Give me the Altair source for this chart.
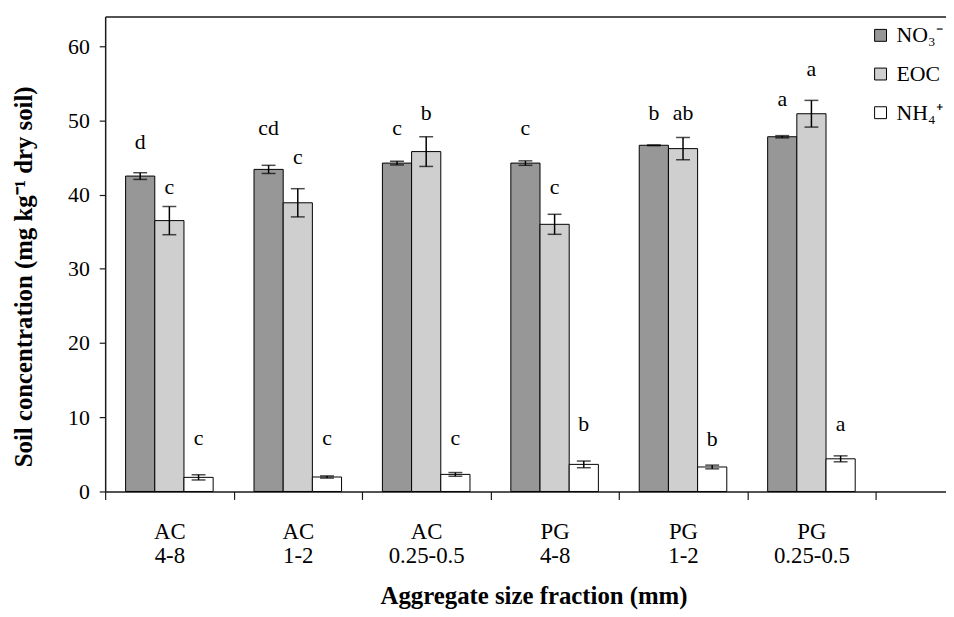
import altair as alt
import pandas as pd

# ---- data ----
groups = ["AC\n4-8", "AC\n1-2", "AC\n0.25-0.5", "PG\n4-8", "PG\n1-2", "PG\n0.25-0.5"]
series = ["NO₃⁻", "EOC", "NH₄⁺"]
colors = ["#979797", "#cfcfcf", "#ffffff"]

no3_mean = [42.5, 43.4, 44.25, 44.25, 46.65, 47.8]
no3_err = [0.45, 0.55, 0.25, 0.3, 0.05, 0.15]
eoc_mean = [36.5, 38.9, 45.8, 36.0, 46.2, 50.9]
eoc_err = [1.9, 1.9, 2.0, 1.35, 1.5, 1.8]
nh4_mean = [1.9, 1.95, 2.3, 3.65, 3.3, 4.4]
nh4_err = [0.35, 0.15, 0.25, 0.45, 0.25, 0.4]

no3_letters = ["d", "cd", "c", "c", "b", "a"]
eoc_letters = ["c", "c", "b", "c", "ab", "a"]
nh4_letters = ["c", "c", "c", "b", "b", "a"]
no3_letter_y = [46.1, 48.1, 48.1, 48.1, 50.1, 52.0]
eoc_letter_y = [40.1, 44.1, 50.1, 40.1, 50.1, 56.0]
nh4_letter_y = [6.2, 6.2, 6.2, 8.2, 6.1, 8.2]

y_ticks = [0, 10, 20, 30, 40, 50, 60]

rows = []
for s, means, errs, lets, ly in [
    (series[0], no3_mean, no3_err, no3_letters, no3_letter_y),
    (series[1], eoc_mean, eoc_err, eoc_letters, eoc_letter_y),
    (series[2], nh4_mean, nh4_err, nh4_letters, nh4_letter_y),
]:
    for g, m, e, l, yy in zip(groups, means, errs, lets, ly):
        rows.append({"group": g, "series": s, "mean": m, "lo": m - e, "hi": m + e,
                     "letter": l, "label_y": yy})
df = pd.DataFrame(rows)

FONT = "Liberation Serif"
AXC = "#1a1a1a"

xscale = alt.Scale(domain=groups, paddingInner=0, paddingOuter=0.274, align=0)
offscale = alt.Scale(domain=series, paddingInner=0, paddingOuter=0.7)
yscale = alt.Scale(domain=[0, 64], nice=False, zero=True)

yaxis = alt.Axis(values=y_ticks, title="Soil concentration (mg kg⁻¹ dry soil)",
                 titleX=-69, titleY=262, titleFontSize=25, labelFontSize=22,
                 tickSize=6, labelPadding=10, domainWidth=1.5, tickWidth=1.2)

xaxis_bottom = alt.Axis(orient="bottom", tickBand="extent",
                        labelExpr="split(datum.label, '\\n')", labelAngle=0,
                        labelFontSize=23, labelLineHeight=25, labelPadding=21,
                        tickSize=8, tickWidth=1.2, domainWidth=1.5,
                        title="Aggregate size fraction (mm)", titleFontSize=25,
                        titleX=432, titleY=93, labelOverlap=False)
xaxis_top = alt.Axis(orient="top", labels=False, ticks=False, title=None,
                     domain=True, domainWidth=1.5)

xoff = alt.XOffset("series:N", scale=offscale)

bars = alt.Chart(df).mark_bar(stroke="black", strokeWidth=1).encode(
    x=alt.X("group:N", scale=xscale, axis=xaxis_bottom),
    xOffset=xoff,
    y=alt.Y("mean:Q", scale=yscale, axis=yaxis),
    color=alt.Color("series:N", scale=alt.Scale(domain=series, range=colors),
                    legend=alt.Legend(title=None, orient="none", legendX=771, legendY=8,
                                      symbolType="square", symbolSize=144,
                                      symbolStrokeColor="black", symbolStrokeWidth=1,
                                      labelFont=FONT, labelFontSize=22, labelColor="black",
                                      rowPadding=17, labelOffset=5, padding=0)),
)

err = alt.Chart(df).mark_rule(color="black", strokeWidth=1.5).encode(
    x=alt.X("group:N", scale=xscale, axis=None),
    xOffset=xoff,
    y=alt.Y("lo:Q", scale=yscale, axis=yaxis),
    y2="hi:Q",
)

cap_lo = alt.Chart(df).mark_tick(color="black", thickness=1.5, size=14).encode(
    x=alt.X("group:N", scale=xscale, axis=None),
    xOffset=xoff,
    y=alt.Y("lo:Q", scale=yscale, axis=yaxis),
)
cap_hi = alt.Chart(df).mark_tick(color="black", thickness=1.5, size=14).encode(
    x=alt.X("group:N", scale=xscale, axis=None),
    xOffset=xoff,
    y=alt.Y("hi:Q", scale=yscale, axis=yaxis),
)

letters = alt.Chart(df).mark_text(font=FONT, fontSize=22, baseline="alphabetic",
                                  align="center", color="black").encode(
    x=alt.X("group:N", scale=xscale, axis=xaxis_top),
    xOffset=xoff,
    y=alt.Y("label_y:Q", scale=yscale, axis=yaxis),
    text="letter:N",
)

chart = alt.layer(bars, err, cap_lo, cap_hi, letters).resolve_axis(x="independent").properties(
    width=848, height=479,
    autosize=alt.AutoSizeParams(type="none"),
    padding={"left": 98, "top": 6, "right": 0, "bottom": 124},
).configure_view(stroke=None).configure_axis(
    domainColor=AXC, tickColor=AXC, labelColor="black", titleColor="black",
    labelFont=FONT, titleFont=FONT, titleFontWeight="bold", grid=False,
)

chart.save("out.html", embed_options={"renderer": "svg", "actions": False})
